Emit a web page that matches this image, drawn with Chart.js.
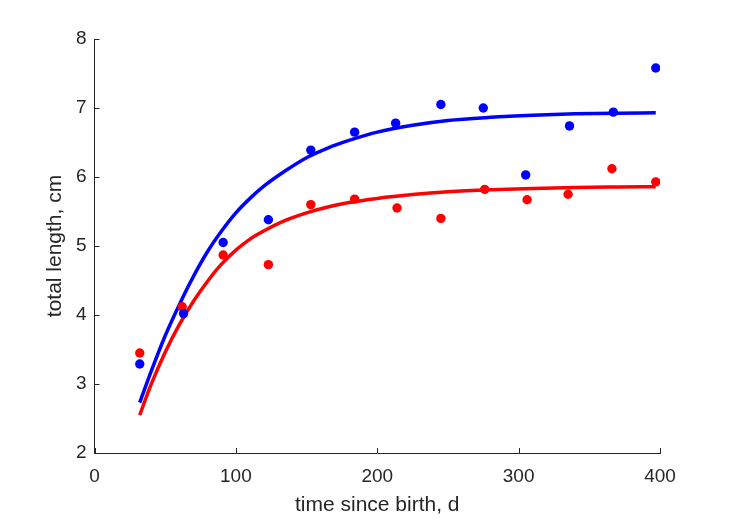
<!DOCTYPE html>
<html>
<head>
<meta charset="utf-8">
<script src="https://cdn.jsdelivr.net/npm/chart.js@4/dist/chart.umd.min.js"></script>
<style>
  html, body { margin: 0; padding: 0; background: #ffffff; }
  #wrap { width: 729px; height: 521px; }
</style>
</head>
<body>
<div id="wrap"><canvas id="c" width="729" height="521"></canvas></div>
<script>
// Observed data (time since birth, d ; total length, cm)
const blueDays   = [32, 63, 91, 123, 153, 184, 213, 245, 275, 305, 336, 367, 397];
const blueLength = [3.29, 4.02, 5.05, 5.38, 6.39, 6.65, 6.78, 7.05, 7.00, 6.03, 6.74, 6.94, 7.58];
const redDays    = [32, 62, 91, 123, 153, 184, 214, 245, 276, 306, 335, 366, 397];
const redLength  = [3.45, 4.12, 4.87, 4.73, 5.60, 5.68, 5.55, 5.40, 5.82, 5.67, 5.75, 6.12, 5.93];

// Fitted growth curves
const fitDays       = [32, 40, 50, 60, 70, 80, 90, 100, 110, 120, 135, 150, 165, 180, 200, 225, 250, 280, 310, 340, 370, 397];
const blueFitLength = [2.73, 3.18, 3.70, 4.15, 4.56, 4.92, 5.22, 5.48, 5.69, 5.87, 6.09, 6.28, 6.42, 6.53, 6.65, 6.75, 6.82, 6.865, 6.895, 6.915, 6.925, 6.93];
const redFitLength  = [2.55, 2.99, 3.46, 3.86, 4.20, 4.49, 4.74, 4.94, 5.10, 5.22, 5.37, 5.48, 5.565, 5.63, 5.69, 5.745, 5.785, 5.815, 5.835, 5.848, 5.855, 5.86];

// Axis ticks
const xTicks = [0, 100, 200, 300, 400];
const yTicks = [2, 3, 4, 5, 6, 7, 8];

const BLUE = '#0000ff';
const RED = '#ff0000';
const INK = '#262626';
const FONT = '"Liberation Sans", Arial, Helvetica, sans-serif';

const pts = (xs, ys) => xs.map((x, i) => ({ x: x, y: ys[i] }));

const inwardTicks = {
  id: 'inwardTicks',
  afterDraw(chart) {
    const ctx = chart.ctx;
    const xs = chart.scales.x, ys = chart.scales.y;
    const a = chart.chartArea;
    ctx.save();
    ctx.strokeStyle = INK;
    ctx.lineWidth = 1;
    ctx.beginPath();
    xTicks.forEach(v => {
      const px = Math.round(xs.getPixelForValue(v)) + 0.5;
      ctx.moveTo(px, a.bottom);
      ctx.lineTo(px, a.bottom - 5);
    });
    yTicks.forEach(v => {
      const py = Math.round(ys.getPixelForValue(v)) + 0.5;
      ctx.moveTo(a.left, py);
      ctx.lineTo(a.left + 5, py);
    });
    ctx.stroke();
    ctx.restore();
  }
};

new Chart(document.getElementById('c'), {
  type: 'scatter',
  data: {
    datasets: [
      { type: 'scatter', data: pts(blueDays, blueLength), backgroundColor: BLUE, borderWidth: 0, pointRadius: 4.7, order: 0 },
      { type: 'scatter', data: pts(redDays, redLength), backgroundColor: RED, borderWidth: 0, pointRadius: 4.7, order: 1 },
      { type: 'line', data: pts(fitDays, blueFitLength), borderColor: BLUE, borderWidth: 3.5, pointRadius: 0, fill: false, cubicInterpolationMode: 'monotone', order: 2 },
      { type: 'line', data: pts(fitDays, redFitLength), borderColor: RED, borderWidth: 3.5, pointRadius: 0, fill: false, cubicInterpolationMode: 'monotone', order: 3 }
    ]
  },
  options: {
    responsive: false,
    animation: false,
    devicePixelRatio: 1,
    layout: { padding: { left: 0, right: 69, top: 39, bottom: 0 } },
    plugins: { legend: { display: false }, tooltip: { enabled: false } },
    scales: {
      x: {
        type: 'linear',
        min: 0, max: 400,
        afterBuildTicks: s => { s.ticks = xTicks.map(v => ({ value: v })); },
        afterFit: s => { s.height = 68; },
        grid: { display: false, drawTicks: false },
        border: { display: true, color: INK, width: 1 },
        ticks: { color: INK, font: { family: FONT, size: 19 }, padding: 12, maxRotation: 0 },
        title: { display: true, text: 'time since birth, d', color: INK, font: { family: FONT, size: 21 }, padding: { top: 0, bottom: 3 } }
      },
      y: {
        type: 'linear',
        min: 2, max: 8,
        afterBuildTicks: s => { s.ticks = yTicks.map(v => ({ value: v })); },
        afterFit: s => { s.width = 94.5; },
        grid: { display: false, drawTicks: false },
        border: { display: true, color: INK, width: 1 },
        ticks: { color: INK, font: { family: FONT, size: 19 }, padding: 8 },
        title: { display: true, text: 'total length, cm', color: INK, font: { family: FONT, size: 21 }, padding: { top: 43, bottom: 0 } }
      }
    }
  },
  plugins: [inwardTicks]
});
</script>
</body>
</html>
